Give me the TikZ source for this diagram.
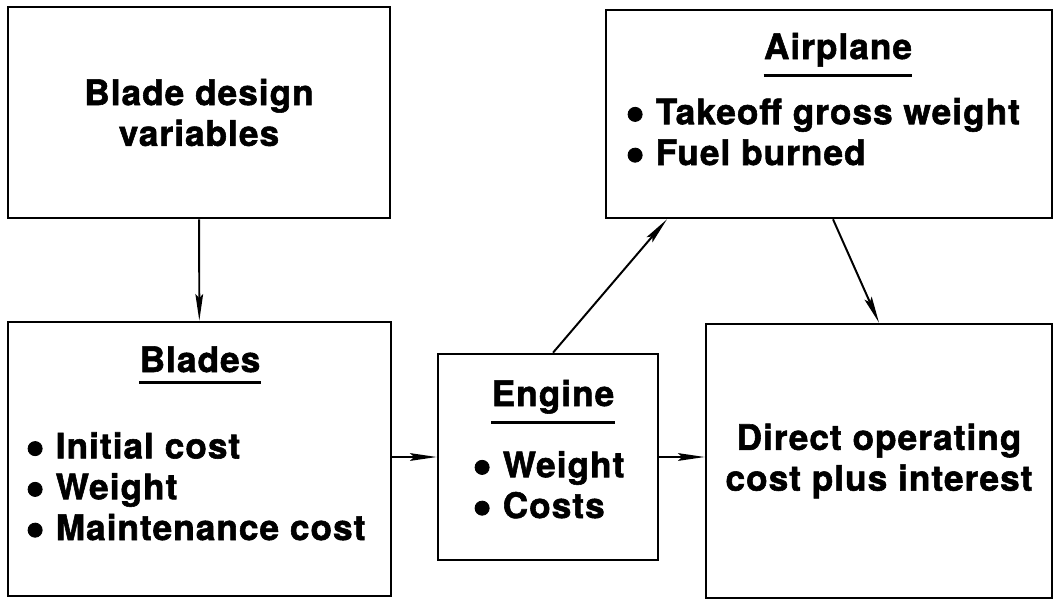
\documentclass[tikz,border=0pt]{standalone}
\usepackage{fontspec}
\usepackage{graphicx}
\setmainfont{TeX Gyre Heros}[LetterSpace=3, BoldFeatures={FakeBold=1.6}]
\usetikzlibrary{arrows.meta}
\newcommand\bul{\raisebox{-0.2em}{\scalebox{1.6}{\textbullet}}}
\tikzset{
	box/.style={draw, rectangle, line width=1.8pt, font=\bfseries\fontsize{25}{29}\selectfont, align=center},
	head/.style={font=\bfseries\fontsize{25}{29}\selectfont, inner sep=0pt, anchor=base},
	items/.style={font=\bfseries\fontsize{25}{29}\selectfont, inner sep=0pt, anchor=base west, align=left},
	link/.style={-{Stealth[length=19pt, width=5.5pt, inset=3pt]}, line width=1.4pt},
	underl/.style={line width=2pt}
}
\begin{document}
\begin{tikzpicture}[x=0.025cm, y=-0.025cm]
				\useasboundingbox (0,0) rectangle (1057,598);
				\node[box, minimum width=9.55cm, minimum height=5.275cm] (design)at(199, 112.5) {Blade design\\variables};
				\node[box, minimum width=11.15cm, minimum height=5.2cm] (airplane)at(829, 114) {};
				\node[box, minimum width=9.575cm, minimum height=6.85cm] (blades)at(199.5, 459) {};
				\node[box, minimum width=5.5cm, minimum height=5.15cm] (engine)at(548, 457) {};
				\node[box, minimum width=8.65cm, minimum height=6.85cm] (doc)at(879, 461) {Direct operating\\cost plus interest};
				\node[head] (airplaneT)at(838, 59) {Airplane};
				\node[items] (airplaneL)at(625, 165) {\bul\ Takeoff gross weight\\\bul\ Fuel burned};
				\node[head] (bladesT)at(200, 372) {Blades};
				\node[items] (bladesL)at(25, 540) {\bul\ Initial cost\\\bul\ Weight\\\bul\ Maintenance cost};
				\node[head] (engineT)at(553, 406) {Engine};
				\node[items] (engineL)at(472, 518) {\bul\ Weight\\\bul\ Costs};
				\draw[underl] ([yshift=-6pt]airplaneT.south west) -- ([yshift=-6pt]airplaneT.south east);
				\draw[underl] ([yshift=-7pt]bladesT.south west) -- ([yshift=-7pt]bladesT.south east);
				\draw[underl] ([yshift=-6pt]engineT.south west) -- ([yshift=-6pt]engineT.south east);
				\draw[link] (design) -- (blades);
				\draw[link] (blades.east |- engine.west) -- (engine.west);
				\draw[link] (engine.east) -- (engine.east -| doc.west);
				\draw[link] ([xshift=0.125cm]engine.north) -- ([xshift=-4.05cm]airplane.south);
				\draw[link] ([xshift=0.1cm]airplane.south) -- (doc.north);
			\end{tikzpicture}
\end{document}
